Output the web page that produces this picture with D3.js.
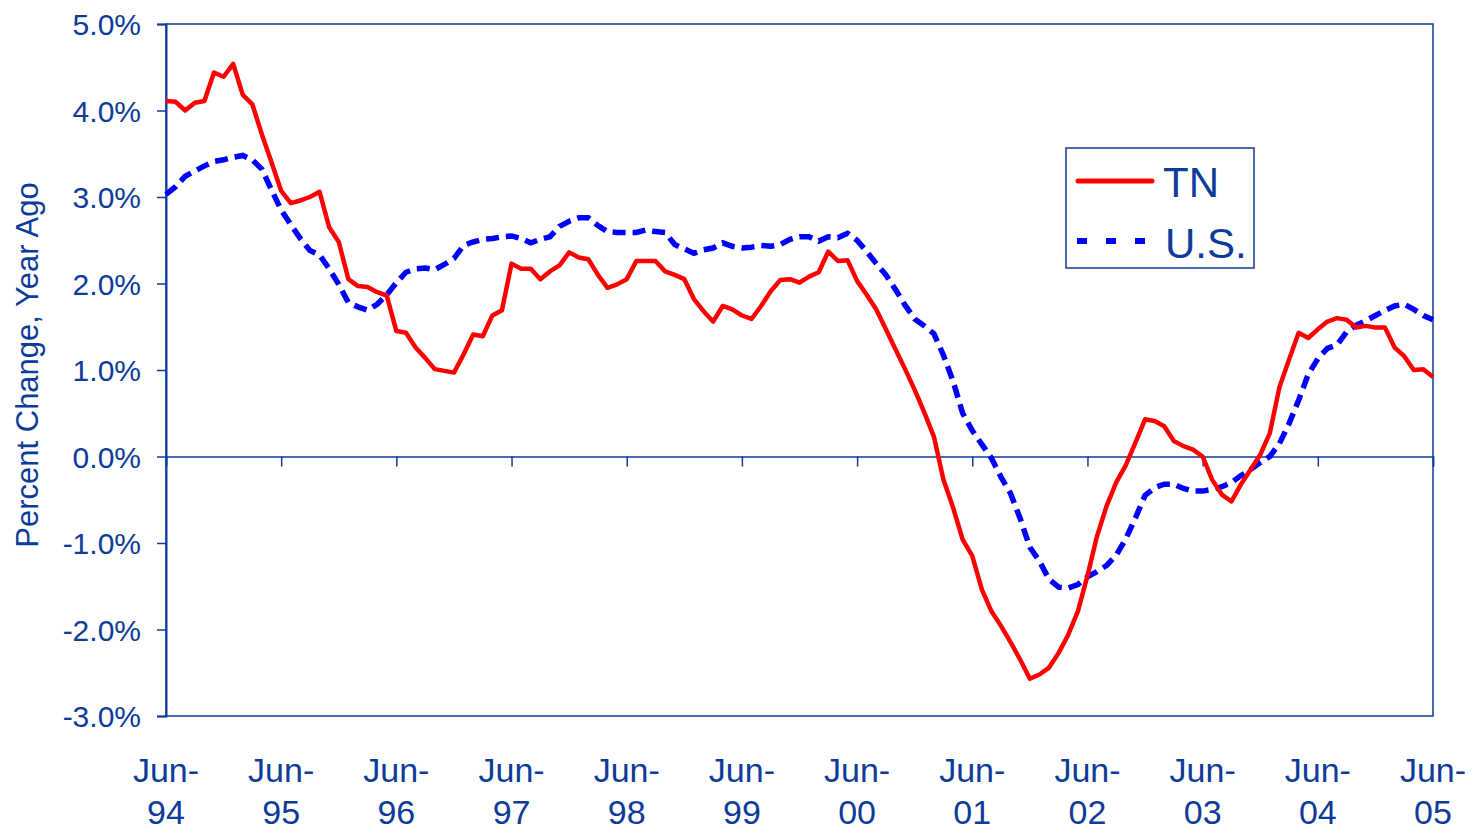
<!DOCTYPE html>
<html>
<head>
<meta charset="utf-8">
<script src="https://cdn.jsdelivr.net/npm/d3@7"></script>
<style>
  html, body { margin: 0; padding: 0; background: #ffffff; }
  svg { display: block; }
</style>
</head>
<body>
<svg id="chart" width="1475" height="831"></svg>
<script>
// Monthly data, Jun-1994 .. Jun-2005 (133 months)
const tickLabelsTop = ["Jun-","Jun-","Jun-","Jun-","Jun-","Jun-","Jun-","Jun-","Jun-","Jun-","Jun-","Jun-"];
const tickLabelsBottom = ["94","95","96","97","98","99","00","01","02","03","04","05"];
const yTicks = [5, 4, 3, 2, 1, 0, -1, -2, -3];
const seriesNames = ["TN", "U.S."];

const tnValues = [
  4.11, 4.10, 4.00, 4.09, 4.11, 4.44, 4.39, 4.54, 4.18, 4.07, 3.72, 3.40,
  3.07, 2.93, 2.96, 3.00, 3.06, 2.65, 2.48, 2.05, 1.97, 1.96, 1.90, 1.86,
  1.45, 1.43, 1.26, 1.14, 1.01, 0.99, 0.97, 1.18, 1.41, 1.39, 1.63, 1.69,
  2.23, 2.17, 2.17, 2.05, 2.14, 2.21, 2.36, 2.30, 2.28, 2.10, 1.95, 1.99,
  2.05, 2.26, 2.26, 2.26, 2.14, 2.10, 2.05, 1.82, 1.68, 1.56, 1.74, 1.70,
  1.63, 1.59, 1.74, 1.91, 2.04, 2.05, 2.01, 2.08, 2.13, 2.37, 2.26, 2.27,
  2.03, 1.87, 1.70, 1.47, 1.24, 1.01, 0.77, 0.51, 0.23, -0.27, -0.59, -0.96,
  -1.15, -1.54, -1.79, -1.96, -2.15, -2.35, -2.57, -2.52, -2.44, -2.27, -2.06, -1.79,
  -1.38, -0.92, -0.57, -0.30, -0.10, 0.16, 0.43, 0.41, 0.35, 0.18, 0.12, 0.08,
  0.00, -0.27, -0.44, -0.52, -0.32, -0.15, 0.02, 0.27, 0.80, 1.12, 1.43, 1.37,
  1.47, 1.56, 1.60, 1.58, 1.49, 1.51, 1.49, 1.49, 1.26, 1.16, 1.00, 1.01,
  0.92
];

const usValues = [
  3.03, 3.12, 3.24, 3.30, 3.36, 3.41, 3.43, 3.46, 3.48, 3.43, 3.32, 3.08,
  2.85, 2.68, 2.52, 2.38, 2.33, 2.17, 1.99, 1.78, 1.73, 1.69, 1.76, 1.87,
  2.01, 2.13, 2.17, 2.18, 2.16, 2.22, 2.29, 2.44, 2.48, 2.51, 2.52, 2.54,
  2.55, 2.52, 2.47, 2.51, 2.54, 2.66, 2.72, 2.76, 2.76, 2.67, 2.60, 2.59,
  2.59, 2.59, 2.62, 2.60, 2.59, 2.45, 2.40, 2.35, 2.39, 2.41, 2.47, 2.43,
  2.41, 2.42, 2.44, 2.43, 2.45, 2.51, 2.54, 2.54, 2.49, 2.54, 2.53, 2.58,
  2.50, 2.37, 2.23, 2.10, 1.93, 1.75, 1.59, 1.51, 1.42, 1.17, 0.87, 0.50,
  0.30, 0.14, -0.02, -0.24, -0.43, -0.72, -1.05, -1.21, -1.42, -1.51, -1.52, -1.48,
  -1.39, -1.33, -1.26, -1.14, -0.95, -0.71, -0.45, -0.36, -0.32, -0.32, -0.37, -0.40,
  -0.40, -0.38, -0.35, -0.30, -0.22, -0.15, -0.07, 0.00, 0.15, 0.38, 0.65, 0.95,
  1.13, 1.25, 1.29, 1.44, 1.52, 1.57, 1.63, 1.69, 1.74, 1.76, 1.70, 1.63,
  1.58
];

const axisColor = "#0d3b99";
const textColor = "#0d3b99";
const tnColor = "#ff0000";
const usColor = "#0000ff";
const fontFamily = "Arial, 'Liberation Sans', Helvetica, sans-serif";

const svg = d3.select("#chart");
const plot = { left: 166, right: 1433, top: 24, bottom: 716 };

const nMonths = tnValues.length - 1;
const x = d3.scaleLinear().domain([0, nMonths]).range([plot.left, plot.right]);
const y = d3.scaleLinear().domain([-3, 5]).range([plot.bottom, plot.top]);

// Plot border
svg.append("rect")
  .attr("x", plot.left).attr("y", plot.top)
  .attr("width", plot.right - plot.left).attr("height", plot.bottom - plot.top)
  .attr("fill", "none").attr("stroke", axisColor).attr("stroke-width", 1.5);

// Y axis
const yAxis = d3.axisLeft(y).tickValues(yTicks).tickSize(9).tickPadding(16)
  .tickFormat(d => d.toFixed(1) + "%");
const gy = svg.append("g").attr("transform", `translate(${plot.left},0)`).call(yAxis);
gy.select(".domain").attr("stroke", axisColor).attr("stroke-width", 2);
gy.selectAll(".tick line").attr("stroke", axisColor).attr("stroke-width", 1.5);
gy.selectAll(".tick text")
  .attr("fill", textColor).attr("font-family", fontFamily).attr("font-size", 30)
  .attr("dy", "0.36em");

// Zero line with downward year ticks
const yearMonths = d3.range(0, nMonths + 1, 12);
const xAxis = d3.axisBottom(x).tickValues(yearMonths).tickSize(10).tickFormat("");
const gx = svg.append("g").attr("transform", `translate(0,${y(0)})`).call(xAxis);
gx.select(".domain").attr("stroke", axisColor).attr("stroke-width", 1.5);
gx.selectAll(".tick line").attr("stroke", axisColor).attr("stroke-width", 1.5);

// X tick labels (two lines) below plot
const xl = svg.append("g");
yearMonths.forEach((m, i) => {
  const t = xl.append("text")
    .attr("x", x(m)).attr("text-anchor", "middle")
    .attr("fill", textColor).attr("font-family", fontFamily).attr("font-size", 34);
  t.append("tspan").attr("x", x(m)).attr("y", 782).text(tickLabelsTop[i]);
  t.append("tspan").attr("x", x(m)).attr("y", 824).text(tickLabelsBottom[i]);
});

// Y axis title
svg.append("text")
  .attr("transform", "translate(38,365) rotate(-90)")
  .attr("text-anchor", "middle")
  .attr("fill", textColor).attr("font-family", fontFamily).attr("font-size", 31)
  .text("Percent Change, Year Ago");

// Lines
const line = d3.line().x((d, i) => x(i)).y(d => y(d));

svg.append("path").datum(usValues)
  .attr("d", line).attr("fill", "none")
  .attr("stroke", usColor).attr("stroke-width", 5.5)
  .attr("stroke-dasharray", "13,7");

svg.append("path").datum(tnValues)
  .attr("d", line).attr("fill", "none")
  .attr("stroke", tnColor).attr("stroke-width", 4.5)
  .attr("stroke-linejoin", "round");

// Legend
const lg = svg.append("g");
lg.append("rect").attr("x", 1066).attr("y", 148).attr("width", 188).attr("height", 120)
  .attr("fill", "#ffffff").attr("stroke", axisColor).attr("stroke-width", 1.5);
lg.append("line").attr("x1", 1078).attr("x2", 1152).attr("y1", 181).attr("y2", 181)
  .attr("stroke", tnColor).attr("stroke-width", 5).attr("stroke-linecap", "round");
lg.append("line").attr("x1", 1077).attr("x2", 1147).attr("y1", 241).attr("y2", 241)
  .attr("stroke", usColor).attr("stroke-width", 6).attr("stroke-dasharray", "10,19");
lg.append("text").attr("x", 1163).attr("y", 197)
  .attr("fill", textColor).attr("font-family", fontFamily).attr("font-size", 42)
  .text(seriesNames[0]);
lg.append("text").attr("x", 1165).attr("y", 258)
  .attr("fill", textColor).attr("font-family", fontFamily).attr("font-size", 42)
  .text(seriesNames[1]);
</script>
</body>
</html>
